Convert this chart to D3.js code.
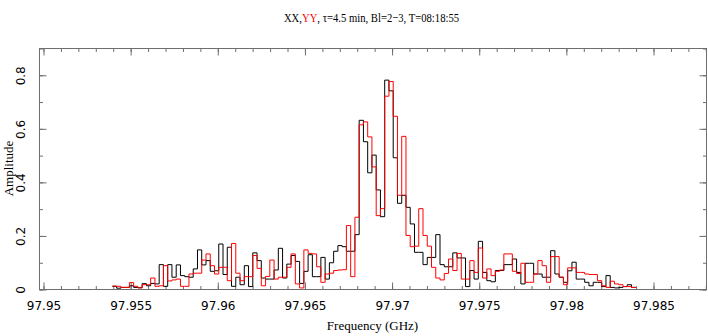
<!DOCTYPE html>
<html>
<head>
<meta charset="utf-8">
<script src="https://cdn.jsdelivr.net/npm/d3@7"></script>
<style>
  html, body { margin: 0; padding: 0; background: #fff; }
  svg { display: block; }
</style>
</head>
<body>
<svg id="chart" width="708" height="336"></svg>
<script>
// Spectrometer channels: first channel's lower edge and channel width (GHz)
const startFreq = 97.95398;
const chanWidth = 0.00024414;

// XX polarisation amplitudes, one per channel
const xxAmp = [
  0.010, 0.003, 0.006, 0.006, 0.012, 0.006, 0.005, 0.020, 0.012, 0.021,
  0.019, 0.091, 0.010, 0.091, 0.044, 0.090, 0.050, 0.046, 0.044, 0.075,
  0.146, 0.090, 0.106, 0.066, 0.068, 0.168, 0.054, 0.156, 0.010, 0.044,
  0.016, 0.087, 0.009, 0.135, 0.106, 0.041, 0.037, 0.037, 0.071, 0.152,
  0.041, 0.093, 0.125, 0.103, 0.021, 0.066, 0.128, 0.046, 0.046, 0.118,
  0.037, 0.098, 0.141, 0.162, 0.158, 0.141, 0.141, 0.203, 0.630, 0.550,
  0.434, 0.500, 0.370, 0.270, 0.780, 0.740, 0.490, 0.320, 0.350, 0.305,
  0.243, 0.137, 0.137, 0.091, 0.118, 0.118, 0.203, 0.091, 0.083, 0.083,
  0.135, 0.116, 0.116, 0.009, 0.069, 0.037, 0.178, 0.062, 0.031, 0.027,
  0.069, 0.069, 0.091, 0.091, 0.112, 0.062, 0.019, 0.096, 0.096, 0.056,
  0.056, 0.044, 0.044, 0.143, 0.056, 0.044, 0.025, 0.068, 0.100, 0.037,
  0.037, 0.025, 0.012, 0.025, 0.025, 0.009, 0.050, 0.006, 0.004, 0.006,
  0.009, 0.016, 0.006
];

// YY polarisation amplitudes, one per channel
const yyAmp = [
  0.011, 0.010, 0.006, 0.006, 0.024, 0.010, 0.004, 0.016, 0.016, 0.041,
  0.010, 0.012, 0.087, 0.030, 0.034, 0.037, 0.010, 0.010, 0.056, 0.059,
  0.059, 0.108, 0.131, 0.087, 0.056, 0.081, 0.081, 0.031, 0.170, 0.059,
  0.031, 0.046, 0.046, 0.125, 0.077, 0.012, 0.047, 0.108, 0.037, 0.044,
  0.044, 0.081, 0.131, 0.019, 0.004, 0.146, 0.133, 0.131, 0.083, 0.025,
  0.056, 0.059, 0.069, 0.071, 0.072, 0.237, 0.046, 0.268, 0.613, 0.624,
  0.568, 0.456, 0.274, 0.300, 0.720, 0.775, 0.645, 0.350, 0.570, 0.200,
  0.158, 0.160, 0.300, 0.200, 0.160, 0.081, 0.041, 0.034, 0.058, 0.112,
  0.069, 0.133, 0.037, 0.037, 0.106, 0.062, 0.153, 0.041, 0.075, 0.050,
  0.066, 0.071, 0.131, 0.131, 0.066, 0.058, 0.096, 0.025, 0.025, 0.056,
  0.106, 0.087, 0.025, 0.121, 0.121, 0.044, 0.016, 0.079, 0.079, 0.062,
  0.062, 0.056, 0.054, 0.054, 0.031, 0.012, 0.006, 0.029, 0.019, 0.016,
  0.009, 0.009, 0.006
];

// Axis ticks and labels
const xMajorTicks = [97.95, 97.955, 97.96, 97.965, 97.97, 97.975, 97.98, 97.985];
const xTickLabels = ["97.95", "97.955", "97.96", "97.965", "97.97", "97.975", "97.98", "97.985"];
const yMajorTicks = [0, 0.2, 0.4, 0.6, 0.8];
const yTickLabels = ["0", "0.2", "0.4", "0.6", "0.8"];

const svg = d3.select("#chart");
const frame = { left: 39, right: 706, top: 48, bottom: 289 };

const x = d3.scaleLinear().domain([97.94977, 97.98804]).range([frame.left, frame.right]);
const y = d3.scaleLinear().domain([0, 0.9]).range([frame.bottom, frame.top]);

const axisColor = "#6e6e6e";
const tickFont = "'DejaVu Sans', sans-serif";
const labelFont = "'Liberation Serif', 'DejaVu Serif', serif";

// Minor ticks every 0.001 GHz and every 0.1 in amplitude
const xMinor = d3.range(97.95, 97.9881, 0.001).filter(v => v <= 97.988);
const yMinor = d3.range(0, 0.9001, 0.1);

// Plot frame
svg.append("rect")
  .attr("x", frame.left + 0.5).attr("y", frame.top + 0.5)
  .attr("width", frame.right - frame.left).attr("height", frame.bottom - frame.top)
  .attr("fill", "none").attr("stroke", axisColor).attr("stroke-width", 1);

// Bottom and top axes, ticks pointing into the plot
const xBottom = d3.axisBottom(x).tickValues(xMajorTicks).tickFormat((d, i) => xTickLabels[i]).tickSizeInner(-7).tickSizeOuter(0).tickPadding(12);
const xTop = d3.axisTop(x).tickValues(xMajorTicks).tickFormat("").tickSizeInner(-7).tickSizeOuter(0);
const xBottomMinor = d3.axisBottom(x).tickValues(xMinor).tickFormat("").tickSizeInner(-3.5).tickSizeOuter(0);
const xTopMinor = d3.axisTop(x).tickValues(xMinor).tickFormat("").tickSizeInner(-3.5).tickSizeOuter(0);

const yLeft = d3.axisLeft(y).tickValues(yMajorTicks).tickFormat((d, i) => yTickLabels[i]).tickSizeInner(-7).tickSizeOuter(0).tickPadding(10);
const yRight = d3.axisRight(y).tickValues(yMajorTicks).tickFormat("").tickSizeInner(-7).tickSizeOuter(0);
const yLeftMinor = d3.axisLeft(y).tickValues(yMinor).tickFormat("").tickSizeInner(-3.5).tickSizeOuter(0);
const yRightMinor = d3.axisRight(y).tickValues(yMinor).tickFormat("").tickSizeInner(-3.5).tickSizeOuter(0);

function styleAxis(g) {
  g.select(".domain").remove();
  g.selectAll(".tick line").attr("stroke", axisColor);
  g.selectAll(".tick text").attr("fill", "#000").style("font-family", tickFont).style("font-size", "12px");
}

svg.append("g").attr("transform", `translate(0.5,${frame.bottom + 0.5})`).call(xBottomMinor).call(styleAxis);
svg.append("g").attr("transform", `translate(0.5,${frame.top + 0.5})`).call(xTopMinor).call(styleAxis);
svg.append("g").attr("transform", `translate(0.5,${frame.bottom + 0.5})`).call(xBottom).call(styleAxis);
svg.append("g").attr("transform", `translate(0.5,${frame.top + 0.5})`).call(xTop).call(styleAxis);

svg.append("g").attr("transform", `translate(${frame.left + 0.5},0.5)`).call(yLeftMinor).call(styleAxis);
svg.append("g").attr("transform", `translate(${frame.right + 0.5},0.5)`).call(yRightMinor).call(styleAxis);
const yAxisG = svg.append("g").attr("transform", `translate(${frame.left + 0.5},0.5)`).call(yLeft).call(styleAxis);
svg.append("g").attr("transform", `translate(${frame.right + 0.5},0.5)`).call(yRight).call(styleAxis);

// Amplitude labels read bottom-to-top along the left axis
yAxisG.selectAll(".tick text")
  .attr("x", null).attr("dy", null)
  .attr("text-anchor", "middle")
  .attr("transform", "translate(-15,0) rotate(-90)");

// Step-histogram paths: each channel spans its full width
function stepPoints(values) {
  const pts = values.map((v, i) => [startFreq + i * chanWidth, v]);
  pts.push([startFreq + values.length * chanWidth, values[values.length - 1]]);
  return pts;
}
const stepLine = d3.line().x(d => x(d[0])).y(d => y(d[1])).curve(d3.curveStepAfter);

svg.append("path").datum(stepPoints(xxAmp))
  .attr("d", stepLine).attr("fill", "none").attr("stroke", "#000").attr("stroke-width", 1);
svg.append("path").datum(stepPoints(yyAmp))
  .attr("d", stepLine).attr("fill", "none").attr("stroke", "#ff0000").attr("stroke-width", 1);

// Title with the YY polarisation in red, set in a narrow face
const title = svg.append("g")
  .attr("transform", "translate(371.5,22) scale(0.82,1)")
  .append("text")
  .attr("x", 0).attr("y", 0)
  .attr("text-anchor", "middle")
  .style("font-family", labelFont).style("font-size", "13px");
title.append("tspan").attr("fill", "#000").text("XX,");
title.append("tspan").attr("fill", "#ff0000").text("YY");
title.append("tspan").attr("fill", "#000").text(", \u03C4=4.5  min,  Bl=2\u22123,  T=08:18:55");

// Axis titles
svg.append("text")
  .attr("x", (frame.left + frame.right) / 2).attr("y", 330)
  .attr("text-anchor", "middle")
  .style("font-family", labelFont).style("font-size", "13px")
  .text("Frequency (GHz)");

svg.append("text")
  .attr("transform", `translate(13,${(frame.top + frame.bottom) / 2}) rotate(-90)`)
  .attr("text-anchor", "middle")
  .style("font-family", labelFont).style("font-size", "13px")
  .text("Amplitude");
</script>
</body>
</html>
